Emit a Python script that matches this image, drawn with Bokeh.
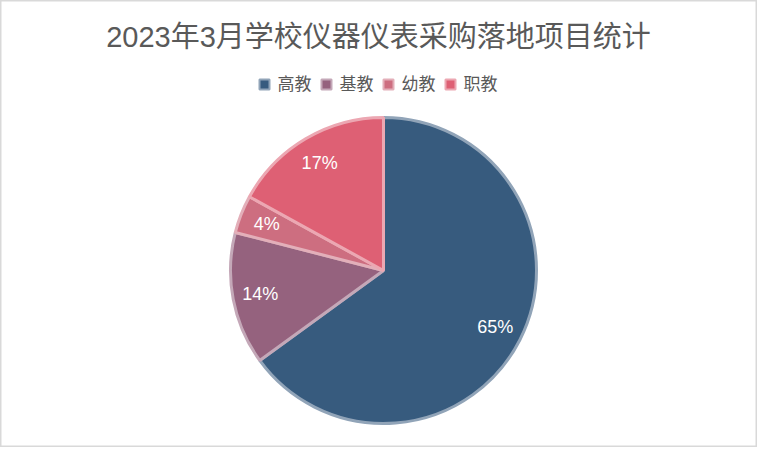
import math
from bokeh.plotting import figure
from bokeh.models import Range1d, ColumnDataSource
from bokeh.core.properties import value
from bokeh.embed import file_html
from bokeh.resources import INLINE

title_text = "2023年3月学校仪器仪表采购落地项目统计"
categories = ["高教", "基教", "幼教", "职教"]
shares = [65, 14, 4, 17]
colors = ["#375b7e", "#95627e", "#cd6e80", "#de6074"]

FONT = "'Liberation Sans', 'Noto Sans CJK SC'"
W, H = 757, 447

p = figure(width=W, height=H, output_backend="svg", toolbar_location=None,
           x_range=Range1d(0, W), y_range=Range1d(0, H),
           min_border=0)
p.axis.visible = False
p.grid.visible = False
p.background_fill_color = "white"
p.border_fill_color = "white"
p.outline_line_color = "#d9d9d9"
p.outline_line_width = 2

def py(page_y):
    return H - page_y

def tint(c, f=0.5):
    r, g, b = int(c[1:3], 16), int(c[3:5], 16), int(c[5:7], 16)
    r = int(r + (255 - r) * f); g = int(g + (255 - g) * f); b = int(b + (255 - b) * f)
    return "#%02x%02x%02x" % (r, g, b)

cx, cy, R = 383, py(270), 153
total = sum(shares)
starts, ends, lx, ly, labels = [], [], [], [], []
cum = 0.0
for s in shares:
    a0 = math.pi / 2 - cum / total * 2 * math.pi
    a1 = math.pi / 2 - (cum + s) / total * 2 * math.pi
    mid = (a0 + a1) / 2
    starts.append(a0); ends.append(a1)
    lx.append(cx + 0.82 * R * math.cos(mid))
    ly.append(cy + 0.82 * R * math.sin(mid))
    labels.append(f"{round(s / total * 100)}%")
    cum += s

src = ColumnDataSource(dict(start=starts, end=ends, color=colors,
                            line=[tint(c, 0.45) for c in colors],
                            lx=lx, ly=ly, label=labels))
p.wedge(x=cx, y=cy, radius=R, start_angle="start", end_angle="end",
        direction="clock", fill_color="color", line_color="line",
        line_width=3, source=src)
p.text(x="lx", y="ly", text="label", source=src, text_color="white",
       text_font=value(FONT), text_font_size="18px", text_align="center",
       text_baseline="middle")

# title
p.text(x=[378], y=[py(36)], text=[title_text], text_color="#595959",
       text_font=value(FONT), text_font_size="29px", text_align="center",
       text_baseline="middle")

# legend
sq_x = [264, 326, 388, 450]
ly_leg = py(84)
p.rect(x=sq_x, y=[ly_leg] * 4, width=10, height=10, fill_color=colors,
       line_color=[tint(c, 0.45) for c in colors], line_width=2)
p.text(x=[x + 13 for x in sq_x], y=[ly_leg] * 4, text=categories,
       text_color="#595959", text_font=value(FONT), text_font_size="17px",
       text_align="left", text_baseline="middle")

open("out.html", "w").write(file_html(p, INLINE))
